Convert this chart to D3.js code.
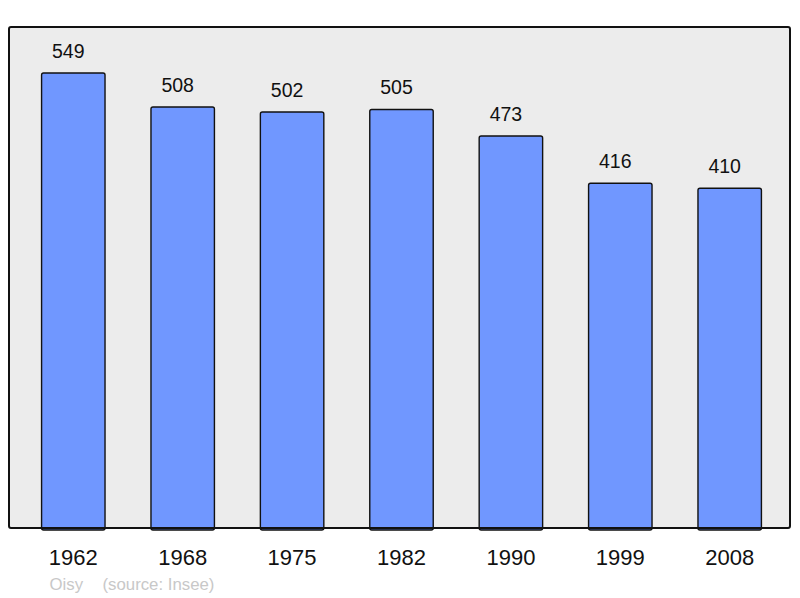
<!DOCTYPE html>
<html>
<head>
<meta charset="utf-8">
<script src="https://cdn.jsdelivr.net/npm/d3@7"></script>
<style>
  body { margin: 0; background: #fff; }
  text { font-family: "Liberation Sans", Arial, sans-serif; }
</style>
</head>
<body>
<div id="chart"></div>
<script>
const years = ["1962", "1968", "1975", "1982", "1990", "1999", "2008"];
const population = [549, 508, 502, 505, 473, 416, 410];
const town = "Oisy";
const source = "(source: Insee)";

const width = 800;
const height = 598;

const panel = { x: 9, y: 27, w: 781, h: 501 };

const svg = d3.select("#chart")
    .append("svg")
    .attr("width", width)
    .attr("height", height);

// fond gris du cadre
svg.append("rect")
    .attr("x", panel.x)
    .attr("y", panel.y)
    .attr("width", panel.w)
    .attr("height", panel.h)
    .attr("rx", 2)
    .attr("fill", "#ececec");

const x = d3.scaleBand()
    .domain(years)
    .range([18.6, 784.4])
    .paddingInner(0.42)
    .paddingOuter(0.21);

const y = d3.scaleLinear()
    .domain([0, 604.5])
    .range([panel.y + panel.h, panel.y]);

svg.selectAll("rect.bar")
    .data(population)
    .join("rect")
    .attr("class", "bar")
    .attr("x", (d, i) => x(years[i]))
    .attr("y", d => y(d))
    .attr("width", x.bandwidth())
    .attr("height", d => y(0) - y(d) + 2)
    .attr("rx", 2)
    .attr("fill", "#7097ff")
    .attr("stroke", "#111")
    .attr("stroke-width", 1.4);

// valeurs au-dessus des barres (légèrement décalées à gauche)
svg.selectAll("text.value")
    .data(population)
    .join("text")
    .attr("class", "value")
    .attr("x", (d, i) => x(years[i]) + x.bandwidth() / 2 - 5)
    .attr("y", d => y(d) - 15)
    .attr("text-anchor", "middle")
    .attr("font-size", "19.5px")
    .attr("fill", "#111")
    .text(d => d);

// cadre par-dessus
svg.append("rect")
    .attr("x", panel.x)
    .attr("y", panel.y)
    .attr("width", panel.w)
    .attr("height", panel.h)
    .attr("rx", 2)
    .attr("fill", "none")
    .attr("stroke", "#111")
    .attr("stroke-width", 2);

// années
svg.selectAll("text.year")
    .data(years)
    .join("text")
    .attr("class", "year")
    .attr("x", d => x(d) + x.bandwidth() / 2)
    .attr("y", 564.5)
    .attr("text-anchor", "middle")
    .attr("font-size", "22px")
    .attr("fill", "#111")
    .text(d => d);

svg.append("text")
    .attr("x", 49.5)
    .attr("y", 590)
    .attr("font-size", "16.8px")
    .attr("fill", "#c8c8c8")
    .text(town);

svg.append("text")
    .attr("x", 102.5)
    .attr("y", 590)
    .attr("font-size", "16.8px")
    .attr("fill", "#c8c8c8")
    .text(source);
</script>
</body>
</html>
